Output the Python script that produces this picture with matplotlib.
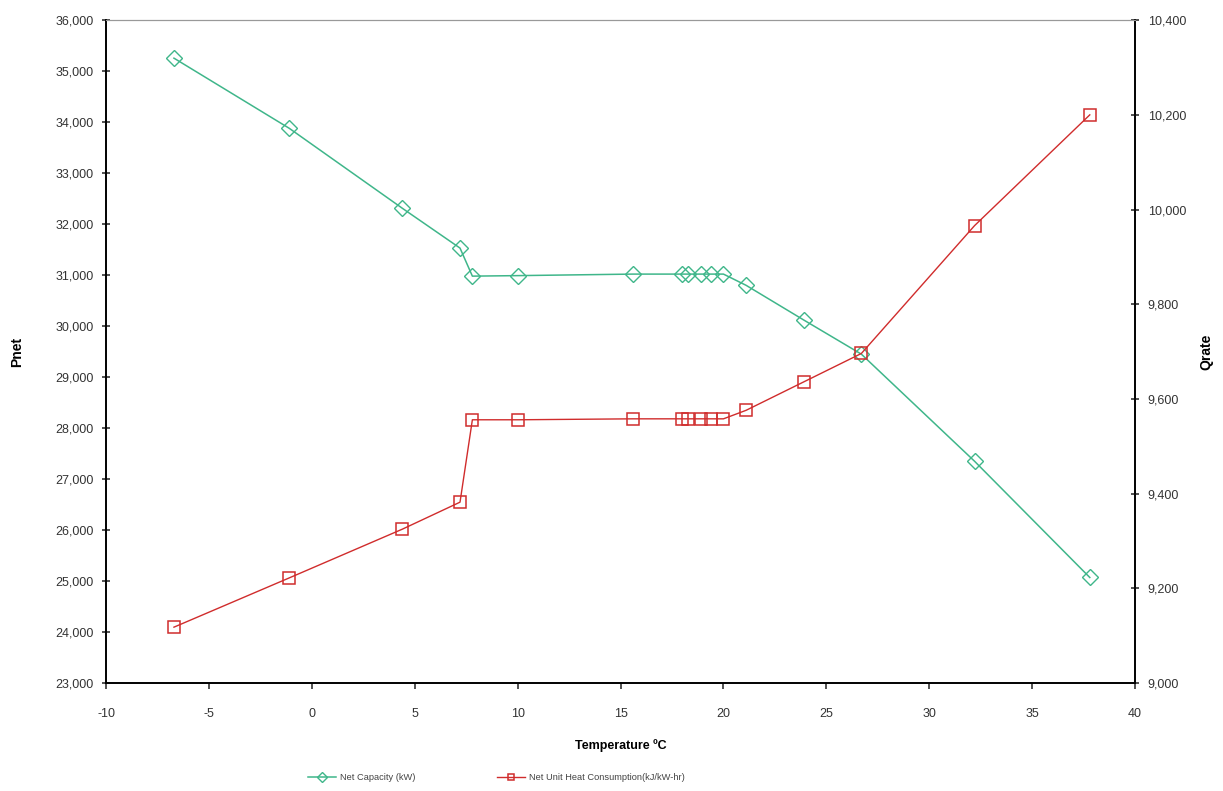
import matplotlib
matplotlib.use('Agg')
import matplotlib.pyplot as plt
from matplotlib.ticker import FuncFormatter

plt.rcParams['font.family'] = ['Liberation Sans', 'DejaVu Sans']
plt.rcParams['axes.unicode_minus'] = False

# temperature (deg C)
temp = [-6.7, -1.1, 4.4, 7.2, 7.8, 10.0, 15.6, 18.0, 18.3, 18.9, 19.4, 20.0,
        21.1, 23.9, 26.7, 32.2, 37.8]
# net capacity (kW)
pnet = [35255, 33880, 32310, 31530, 30980, 30990, 31020, 31020, 31020, 31020,
        31020, 31020, 30800, 30120, 29450, 27350, 25070]
# net unit heat consumption (kJ/kW-hr)
qrate = [9118, 9222, 9325, 9382, 9556, 9556, 9558, 9558, 9558, 9558, 9558,
         9558, 9576, 9636, 9696, 9966, 10200]

green = '#3fb68a'
red = '#d02c2c'

fig = plt.figure(figsize=(12.23, 7.91), dpi=100)
ax = fig.add_axes([0.0867, 0.1365, 0.8414, 0.838])
ax2 = ax.twinx()

l1, = ax.plot(temp, pnet, color=green, lw=1.1, marker='D', ms=8,
              mfc='none', mec=green, mew=1.0, label='Net Capacity (kW)')
l2, = ax2.plot(temp, qrate, color=red, lw=1.0, marker='s', ms=8,
               mfc='none', mec=red, mew=1.1,
               label='Net Unit Heat Consumption(kJ/kW-hr)')

ax.set_xlim(-10, 40)
ax.set_ylim(23000, 36000)
ax2.set_ylim(9000, 10400)
ax.set_xticks(range(-10, 41, 5))
ax.set_yticks(range(23000, 36001, 1000))
ax2.set_yticks(range(9000, 10401, 200))

fmt = FuncFormatter(lambda v, p: '{:,.0f}'.format(v))
ax.yaxis.set_major_formatter(fmt)
ax2.yaxis.set_major_formatter(fmt)

for a in (ax, ax2):
    a.tick_params(labelsize=9, colors='#333333', length=6, width=1.2)
    a.spines['top'].set_color('#999999')
    a.spines['top'].set_linewidth(0.8)
    for s in ('left', 'right', 'bottom'):
        a.spines[s].set_linewidth(1.2)
ax.tick_params(axis='y', direction='inout', pad=6)
ax2.tick_params(axis='y', direction='inout', pad=6)
ax.tick_params(axis='x', direction='out', length=4, pad=14)
for t in ax.get_yticklabels() + ax2.get_yticklabels() + ax.get_xticklabels():
    t.set_color('#333333')

ax.set_xlabel('Temperature ºC', fontsize=9, fontweight='bold', labelpad=14)
ax.set_ylabel('Pnet', fontsize=10, fontweight='bold', labelpad=22)
ax2.set_ylabel('Qrate', fontsize=10, fontweight='bold', labelpad=10)

fig.legend(handles=[l1, l2], loc='center left', bbox_to_anchor=(0.245, 0.017),
           ncol=2, frameon=False, fontsize=6.7, markerscale=0.6,
           columnspacing=8.8, handlelength=3.0, handletextpad=0.4,
           labelcolor='#444444')

fig.savefig('out.png', dpi=100, facecolor='white')
